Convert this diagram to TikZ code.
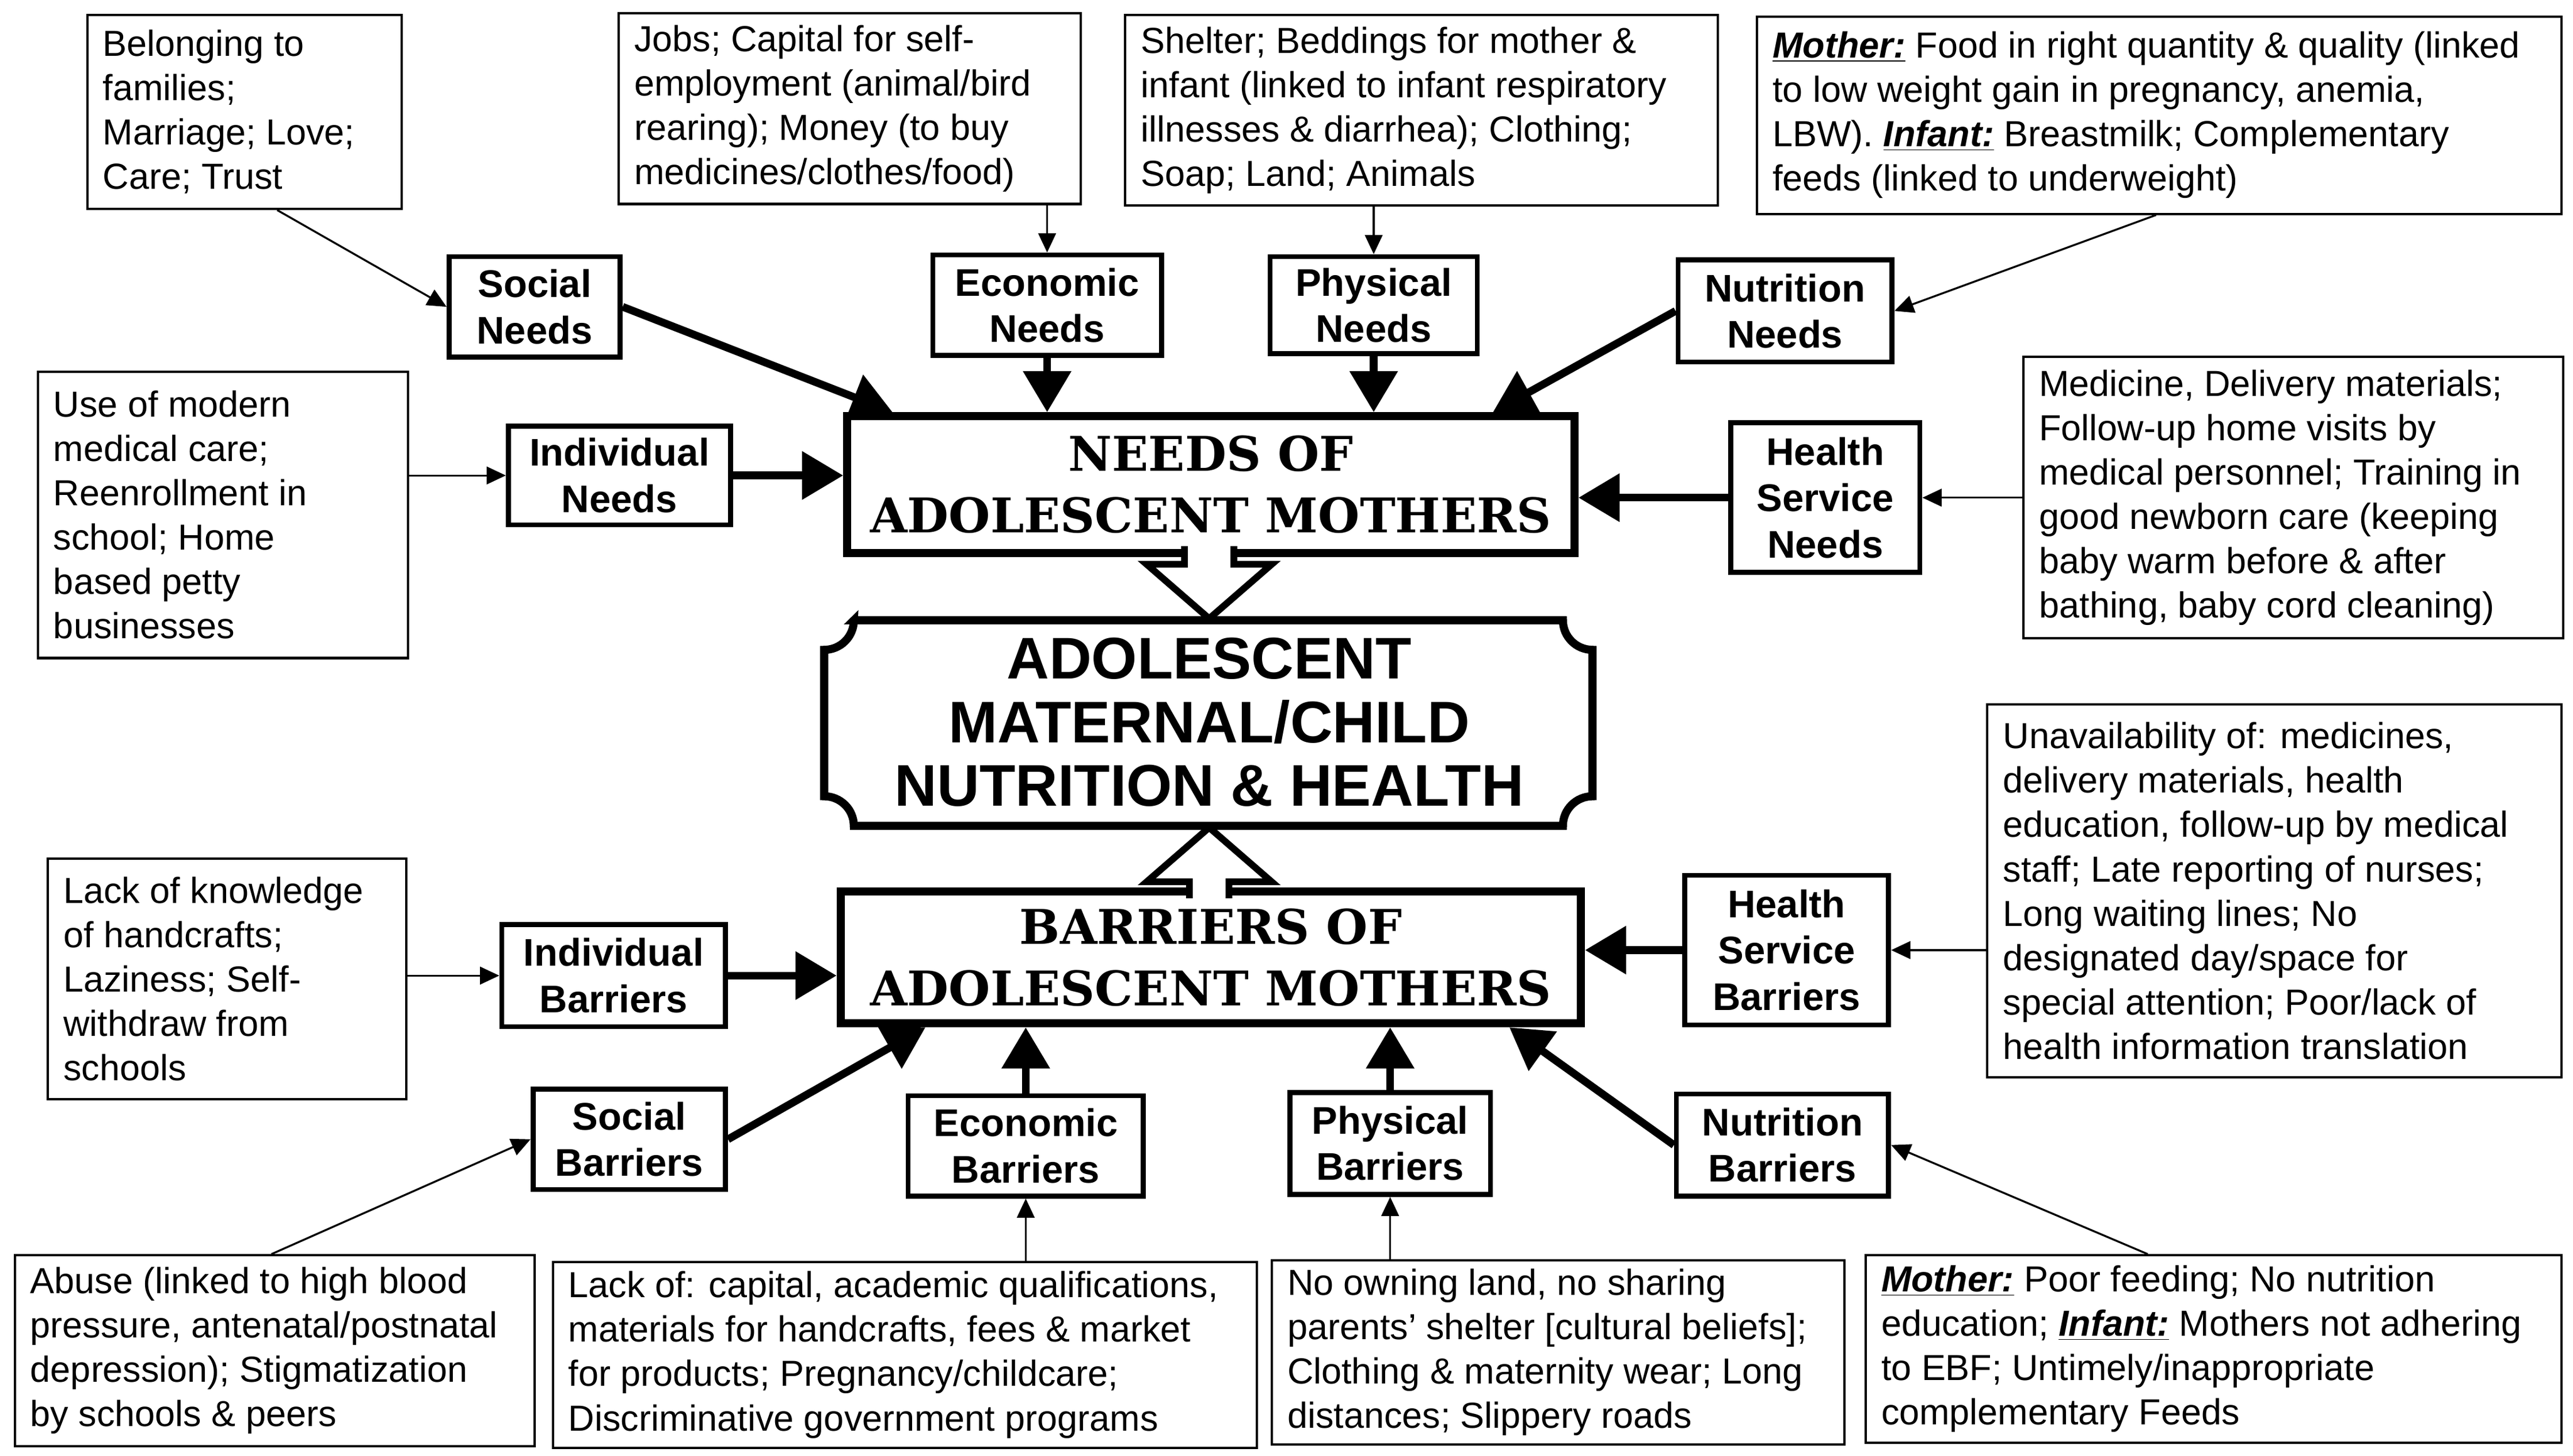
\documentclass[tikz,border=0pt]{standalone}
\usepackage{fontspec}
\setmainfont{Liberation Sans}
\newfontfamily\heavy{DejaVu Serif}
\usetikzlibrary{arrows.meta,calc}
\newcommand\mb[1]{\textbf{\textit{\underline{#1}}}}
\tikzset{
 tbx/.style={draw,line width=1.2pt,inner sep=0pt},
 ttx/.style={align=left,inner sep=0pt,font=\fontsize{18.8}{23}\selectfont},
 nbx/.style={draw,line width=2.6pt,inner sep=0pt,align=center,font=\fontsize{20}{24}\selectfont\bfseries},
 mbx/.style={draw,line width=4.2pt,inner sep=0pt,align=center,font=\heavy\bfseries\fontsize{24.8}{32}\selectfont},
 thick arr/.style={line width=4pt,-{Triangle[length=0.75cm,width=0.85cm]}},
 thin arr/.style={line width=1pt,-{Triangle[length=0.35cm,width=0.32cm]}},
}
\newcommand\tbox[6]{%
\node[tbx,minimum width={(#4-#2)*0.03cm},minimum height={(#5-#3)*0.03cm}] (#1) at ({(#2+#4)/2},{(#3+#5)/2}) {};
\node[ttx,anchor=west] (#1-t) at ([xshift=0.3cm]#1.west) {#6};}
\newcommand\nbox[6]{%
\node[nbx,minimum width={(#4-#2)*0.03cm},minimum height={(#5-#3)*0.03cm}] (#1) at ({(#2+#4)/2},{(#3+#5)/2}) {#6};}
\newcommand\mainbox[6]{%
\node[mbx,minimum width={(#4-#2)*0.03cm},minimum height={(#5-#3)*0.03cm}] (#1) at ({(#2+#4)/2},{(#3+#5)/2}) {#6};}
\begin{document}
\begin{tikzpicture}[x=0.03cm,y=-0.03cm]
\useasboundingbox[fill=white] (0,0) rectangle (1564,885);
% text boxes
\tbox{belong}{53}{9}{244}{127}{Belonging to\\families;\\Marriage;  Love;\\Care; Trust}
\tbox{jobs}{376}{8}{657}{124}{Jobs; Capital for self-\\employment (animal/bird\\rearing); Money (to buy\\medicines/clothes/food)}
\tbox{shelter}{684}{9}{1044}{125}{Shelter; Beddings for mother \&\\infant (linked to infant respiratory\\illnesses \& diarrhea);  Clothing;\\Soap; Land; Animals}
\tbox{food}{1068}{10}{1557}{130}{\mb{Mother:} Food in right quantity \& quality (linked\\to low weight gain in pregnancy, anemia,\\LBW). \mb{Infant:} Breastmilk; Complementary\\feeds (linked to underweight)}
\tbox{modern}{23}{226}{248}{400}{Use of modern\\medical care;\\Reenrollment in\\school; Home\\based petty\\businesses}
\tbox{medicine}{1230}{217}{1558}{388}{Medicine, Delivery materials;\\Follow-up home visits by\\medical personnel; Training  in\\good newborn care (keeping\\baby warm before \& after\\bathing, baby cord cleaning)}
\tbox{unavail}{1208}{428}{1557}{655}{Unavailability  of: medicines,\\delivery materials, health\\education, follow-up by medical\\staff; Late reporting of nurses;\\Long waiting  lines; No\\designated day/space for\\special attention;  Poor/lack of\\health information translation}
\tbox{knowledge}{29}{522}{247}{668}{Lack of knowledge\\of handcrafts;\\Laziness; Self-\\withdraw  from\\schools}
\tbox{abuse}{9}{763}{325}{879}{Abuse (linked to high blood\\pressure, antenatal/postnatal\\depression); Stigmatization\\by schools \& peers}
\tbox{capital}{336}{767}{764}{880}{Lack of: capital, academic qualifications,\\materials for handcrafts, fees \& market\\for products; Pregnancy/childcare;\\Discriminative government programs}
\tbox{land}{773}{766}{1121}{878}{No owning land,  no sharing\\parents' shelter [cultural beliefs];\\Clothing \& maternity wear; Long\\distances; Slippery roads}
\tbox{feeding}{1134}{763}{1557}{877}{\mb{Mother:} Poor feeding; No nutrition\\education; \mb{Infant:} Mothers not adhering\\to EBF; Untimely/inappropriate\\complementary Feeds}
% small boxes
\nbox{sn}{273}{156}{377}{217}{Social\\Needs}
\nbox{en}{567}{155}{706}{216}{Economic\\Needs}
\nbox{pn}{772}{156}{898}{215}{Physical\\Needs}
\nbox{nn}{1020}{158}{1150}{220}{Nutrition\\Needs}
\nbox{in}{309}{259}{444}{319}{Individual\\Needs}
\nbox{hn}{1052}{257}{1167}{348}{Health\\Service\\Needs}
\nbox{ib}{305}{562}{441}{624}{Individual\\Barriers}
\nbox{hb}{1024}{532}{1148}{623}{Health\\Service\\Barriers}
\nbox{sb}{324}{662}{441}{723}{Social\\Barriers}
\nbox{eb}{552}{666}{695}{727}{Economic\\Barriers}
\nbox{pb}{784}{664}{906}{726}{Physical\\Barriers}
\nbox{nb}{1019}{665}{1148}{727}{Nutrition\\Barriers}
% main boxes
\mainbox{needs}{515}{253}{957}{336}{NEEDS OF\\ADOLESCENT MOTHERS}
\mainbox{barriers}{511}{542}{961}{622}{BARRIERS OF\\ADOLESCENT MOTHERS}
\draw[line width=4.2pt,line join=miter] (519,377) -- (950,377) arc[start angle=180,end angle=270,radius=0.54cm]
 -- (968,484) arc[start angle=90,end angle=180,radius=0.54cm]
 -- (519,502) arc[start angle=0,end angle=90,radius=0.54cm]
 -- (501,395) arc[start angle=270,end angle=360,radius=0.54cm] -- cycle;
\node[align=center,inner sep=0pt,font=\bfseries\fontsize{30.5}{33}\selectfont] (centre) at (735,439) {ADOLESCENT\\MATERNAL/CHILD\\NUTRITION \& HEALTH};
% hollow arrows
\filldraw[fill=white,line width=3.5pt,line join=miter] (720,332) -- (720,343) -- (697,343) -- (735,376) -- (773,343) -- (750,343) -- (750,332);
\filldraw[fill=white,line width=3.5pt,line join=miter] (723,546) -- (723,536) -- (697,536) -- (735,503) -- (773,536) -- (747,536) -- (747,546);
% thick arrows
\draw[thick arr] (sn.east) -- ($(needs.north west)+(30,0)$);
\draw[thick arr] (en.south) -- (en.south |- needs.north);
\draw[thick arr] (pn.south) -- (pn.south |- needs.north);
\draw[thick arr] (nn.west) -- ($(needs.north east)+(-52,0)$);
\draw[thick arr] (in.east) -- (in.east -| needs.west);
\draw[thick arr] (hn.west) -- (hn.west -| needs.east);
\draw[thick arr] (ib.east) -- (ib.east -| barriers.west);
\draw[thick arr] (hb.west) -- (hb.west -| barriers.east);
\draw[thick arr] (sb.east) -- ($(barriers.south west)+(54,0)$);
\draw[thick arr] (eb.north) -- (eb.north |- barriers.south);
\draw[thick arr] (pb.north) -- (pb.north |- barriers.south);
\draw[thick arr] (nb.west) -- ($(barriers.south east)+(-46,0)$);
% thin arrows
\draw[thin arr] ($(belong.south)+(20,0)$) -- (sn.west);
\draw[thin arr] (en.north |- jobs.south) -- (en.north);
\draw[thin arr] (pn.north |- shelter.south) -- (pn.north);
\draw[thin arr] ($(food.south)+(-2,0)$) -- (nn.east);
\draw[thin arr] (modern.east |- in.west) -- (in.west);
\draw[thin arr] (medicine.west |- hn.east) -- (hn.east);
\draw[thin arr] (unavail.west |- hb.east) -- (hb.east);
\draw[thin arr] (knowledge.east |- ib.west) -- (ib.west);
\draw[thin arr] ($(abuse.north)+(-2,0)$) -- (sb.west);
\draw[thin arr] (eb.south |- capital.north) -- (eb.south);
\draw[thin arr] (pb.south |- land.north) -- (pb.south);
\draw[thin arr] ($(feeding.north)+(-40,0)$) -- (nb.east);
\end{tikzpicture}
\end{document}
